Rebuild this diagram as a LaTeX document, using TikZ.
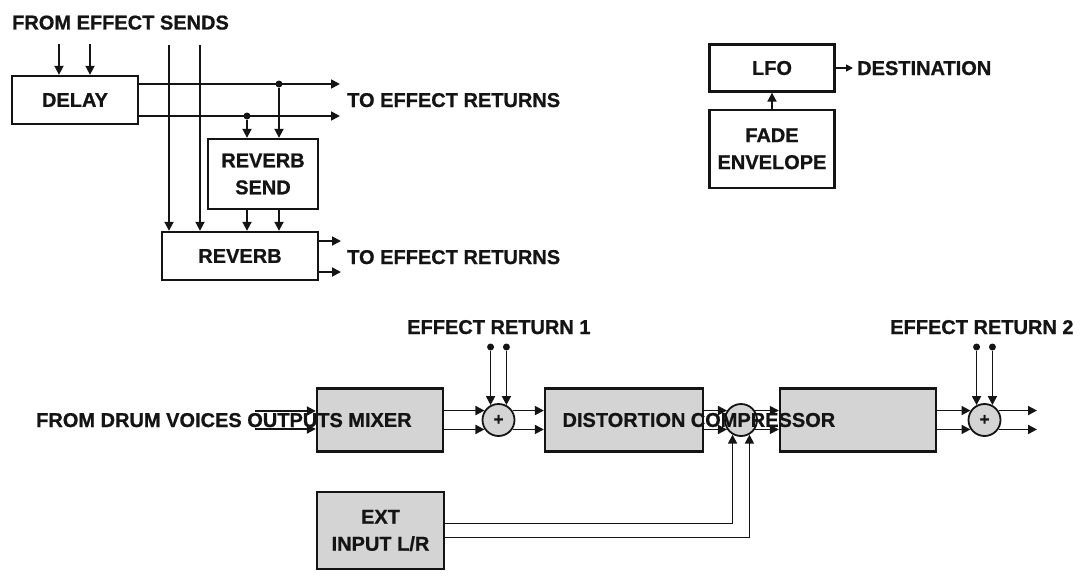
\documentclass[tikz,border=0pt]{standalone}
\usepackage{fontspec}
\setmainfont[BoldFeatures={FakeBold=0.8}]{Liberation Sans}
\usetikzlibrary{arrows.meta,positioning}
\definecolor{panel}{HTML}{D4D4D4}
\definecolor{ink}{HTML}{141414}
\tikzset{
  >={Triangle[length=9pt,width=9pt]},
  every node/.style={font=\fontsize{20}{27}\selectfont\bfseries,text=ink},
  box/.style={draw=ink,line width=2.3pt,fill=white,inner sep=0pt,align=center},
  fxbox/.style={box,fill=panel},
  sum/.style={circle,draw=ink,line width=1.8pt,fill=panel,minimum size=32pt,inner sep=0pt,font=\fontsize{17}{17}\selectfont\bfseries},
  sig/.style={->,line width=1.8pt,draw=ink},
  modarrow/.style={-{Triangle[length=7pt,width=7pt]},line width=1.4pt,draw=ink},
  tap/.style={circle,fill=ink,inner sep=0pt,minimum size=7pt},
  caption/.style={anchor=base west,inner sep=0pt},
}

\begin{document}
\begin{tikzpicture}[x=1pt,y=-1pt]
\useasboundingbox (0,0) rectangle (1081,578);

% effect sends
\node[caption] (sends) at (12,29.5) {FROM EFFECT SENDS};
\node[box,minimum width=126pt,minimum height=48pt] (delay) at (75,100) {DELAY};
\node[box,minimum width=110pt,minimum height=70pt] (rsend) at (263,174) {REVERB\\SEND};
\node[box,minimum width=156pt,minimum height=48pt] (reverb) at (240,256) {REVERB};

\foreach \x [count=\i] in {59,90} {
  \coordinate (dly\i) at (\x,44);
  \draw[sig] (dly\i) -- (dly\i |- delay.north);
}
\foreach \x [count=\i] in {169,200} {
  \coordinate (snd\i) at (\x,45);
  \draw[sig] (snd\i) -- (snd\i |- reverb.north);
}

\coordinate (ret1) at (340,84);
\coordinate (ret2) at (340,116);
\draw[sig] (delay.east |- ret1) -- (ret1);
\draw[sig] (delay.east |- ret2) -- (ret2);
\node[tap] (tapR) at (279,84) {};
\node[tap] (tapL) at (247,116) {};
\draw[sig] (tapR) -- (tapR |- rsend.north);
\draw[sig] (tapL) -- (tapL |- rsend.north);
\draw[sig] (tapL |- rsend.south) -- (tapL |- reverb.north);
\draw[sig] (tapR |- rsend.south) -- (tapR |- reverb.north);

\coordinate (ret3) at (341,241);
\coordinate (ret4) at (341,272);
\draw[sig] (reverb.east |- ret3) -- (ret3);
\draw[sig] (reverb.east |- ret4) -- (ret4);
\node[caption] (toret1) at (347,107) {TO EFFECT RETURNS};
\node[caption] (toret2) at (347,264) {TO EFFECT RETURNS};

% modulation
\node[box,minimum width=125pt,minimum height=47pt] (lfo) at (772,68) {LFO};
\node[box,minimum width=125pt,minimum height=78pt,below=16pt of lfo] (fade) {FADE\\ENVELOPE};
\draw[sig] (fade) -- (lfo);
\coordinate (dest) at (853,68);
\draw[modarrow] (lfo.east) -- (dest);
\node[caption] (destlbl) at (857,75) {DESTINATION};

% output chain
\node[fxbox,minimum width=126pt,minimum height=63pt] (mixer) at (380,420) {MIXER};
\node[sum] (sum1) at (498.5,420) {+};
\node[fxbox,minimum width=158pt,minimum height=63pt] (dist) at (624,420) {DISTORTION};
\node[sum] (sum2) at (741,420) {};
\node[fxbox,minimum width=156pt,minimum height=63pt] (comp) at (858,420) {};
\node[sum] (sum3) at (984.5,420) {+};
\node[fxbox,minimum width=127pt,minimum height=77pt] (ext) at (380.5,530.5) {EXT\\INPUT L/R};

\coordinate (drumU) at (255,411);
\coordinate (drumD) at (255,429);
\draw[sig] (drumU) -- (drumU -| mixer.west);
\draw[sig] (drumD) -- (drumD -| mixer.west);

\foreach \a/\b in {mixer/sum1,dist/sum2,comp/sum3} {
  \draw[sig] (\a.east |- \b.146) -- (\b.146);
  \draw[sig] (\a.east |- \b.214) -- (\b.214);
}
\foreach \a/\b in {sum1/dist,sum2/comp} {
  \draw[sig] (\a.34) -- (\a.34 -| \b.west);
  \draw[sig] (\a.326) -- (\a.326 -| \b.west);
}
\coordinate (outcol) at (1037,420);
\draw[sig] (sum3.34) -- (sum3.34 -| outcol);
\draw[sig] (sum3.326) -- (sum3.326 -| outcol);

% effect returns
\coordinate (retrow) at (0,347);
\node[tap] (er1a) at (sum1.118 |- retrow) {};
\node[tap] (er1b) at (sum1.62 |- retrow) {};
\node[tap] (er2a) at (sum3.118 |- retrow) {};
\node[tap] (er2b) at (sum3.62 |- retrow) {};
\draw[sig] (er1a) -- (sum1.118);
\draw[sig] (er1b) -- (sum1.62);
\draw[sig] (er2a) -- (sum3.118);
\draw[sig] (er2b) -- (sum3.62);
\node[caption] (er1lbl) at (407,334) {EFFECT RETURN 1};
\node[caption] (er2lbl) at (890,334) {EFFECT RETURN 2};

% external input
\draw[sig] ([yshift=7pt]ext.east) -| (sum2.240);
\draw[sig] ([yshift=-7pt]ext.east) -| (sum2.300);

\node[caption] (drums) at (36,427) {FROM DRUM VOICES OUTPUTS};
\node (comptext) at (763,420) {COMPRESSOR};

\end{tikzpicture}
\end{document}
